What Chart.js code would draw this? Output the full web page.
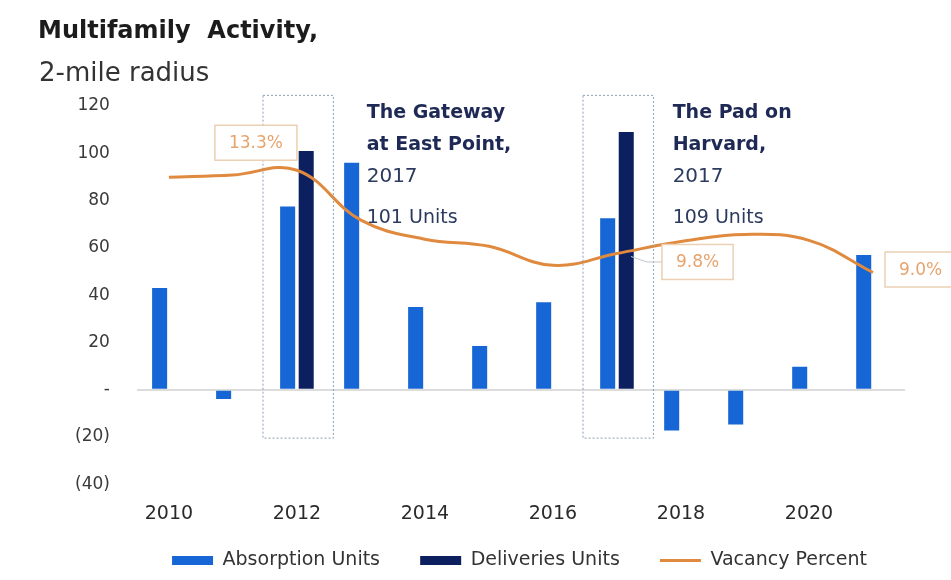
<!DOCTYPE html>
<html>
<head>
<meta charset="utf-8">
<script src="https://cdn.jsdelivr.net/npm/chart.js@4"></script>
<style>
  body { margin: 0; background: #fff; }
  #wrap { width: 951px; height: 580px; position: relative; }
</style>
</head>
<body>
<div id="wrap"><canvas id="mfChart"></canvas></div>
<script>
// chart data
var years = ['2010', '2011', '2012', '2013', '2014', '2015', '2016', '2017', '2018', '2019', '2020', '2021'];
var absorptionUnits = [43, -4, 77.5, 96, 35, 18.5, 37, 72.5, -17.3, -14.7, 9.7, 57];
var deliveriesUnits = [null, null, 101, null, null, null, null, 109, null, null, null, null];
var vacancyPercent = [13.0, 13.1, 13.3, 11.2, 10.4, 10.1, 9.3, 9.8, 10.3, 10.6, 10.35, 9.0];
var yTicks = [-40, -20, 0, 20, 40, 60, 80, 100, 120];
var labelledYears = ['2012', '2017', '2021'];
var projectYears = ['2012', '2017'];
var projectNames = [['The Gateway', 'at East Point,'], ['The Pad on', 'Harvard,']];
var projectDetails = [['2017', '101 Units'], ['2017', '109 Units']];

var FONT = '"DejaVu Sans", Verdana, sans-serif';

// nudge the legend to the right like the original
var legendShift = {
    id: 'legendShift',
    afterUpdate: function(chart) {
        if (chart.legend) {
            chart.legend.left += 43;
            chart.legend.right += 43;
        }
    }
};

var overlay = {
    id: 'overlay',
    afterDraw: function(chart) {
        var ctx = chart.ctx;
        var x = chart.scales.x;
        var y = chart.scales.y;
        var step = x.getPixelForValue(1) - x.getPixelForValue(0);

        ctx.save();
        // title
        ctx.fillStyle = '#1c1c1c';
        ctx.textBaseline = 'alphabetic';
        ctx.textAlign = 'left';
        ctx.font = 'bold 24px ' + FONT;
        ctx.fillText('Multifamily  Activity,', 38, 38);
        ctx.fillStyle = '#333';
        ctx.font = '26px ' + FONT;
        ctx.fillText('2-mile radius', 39, 81);

        // project boxes and notes
        projectYears.forEach(function(yr, k) {
            var i = years.indexOf(yr);
            var cx = x.getPixelForValue(i);
            var top = y.getPixelForValue(124.5);
            var bottom = y.getPixelForValue(-20.5);
            ctx.setLineDash([2, 2]);
            ctx.strokeStyle = '#8c9fb5';
            ctx.lineWidth = 1;
            ctx.strokeRect(cx - step * 0.53, top, step * 1.1, bottom - top);
            ctx.setLineDash([]);

            var tx = cx + step * (k === 0 ? 1.09 : 0.87);
            ctx.fillStyle = '#1e2a55';
            ctx.font = 'bold 19px ' + FONT;
            projectNames[k].forEach(function(t, j) {
                ctx.fillText(t, tx, top + 23 + j * 32);
            });
            ctx.fillStyle = '#2b3a5e';
            ctx.font = '20px ' + FONT;
            ctx.fillText(projectDetails[k][0], tx, top + 87);
            ctx.font = '19px ' + FONT;
            ctx.fillText(projectDetails[k][1], tx, top + 128);
        });

        // vacancy labels
        var meta = chart.getDatasetMeta(2);
        ctx.font = '17px ' + FONT;
        labelledYears.forEach(function(yr) {
            var i = years.indexOf(yr);
            var p = meta.data[i];
            var text = vacancyPercent[i].toFixed(1) + '%';
            var w = ctx.measureText(text).width + 28;
            var h = 35;
            var bx, by;
            if (i === 2) {
                bx = p.x - w; by = p.y - h - 10;
            } else if (i === 7) {
                bx = p.x + 45; by = p.y - 9;
                ctx.strokeStyle = '#bfc6cf';
                ctx.lineWidth = 1;
                ctx.beginPath();
                ctx.moveTo(p.x + 14, p.y + 3);
                ctx.lineTo(p.x + 30, by + h / 2);
                ctx.lineTo(bx, by + h / 2);
                ctx.stroke();
            } else {
                bx = p.x + 12; by = p.y - h / 2 - 3;
            }
            ctx.fillStyle = '#fff';
            ctx.fillRect(bx, by, w, h);
            ctx.strokeStyle = '#ebd0b4';
            ctx.lineWidth = 1.5;
            ctx.strokeRect(bx, by, w, h);
            ctx.fillStyle = '#e6a46c';
            ctx.textAlign = 'center';
            ctx.textBaseline = 'middle';
            ctx.fillText(text, bx + w / 2, by + h / 2 + 1);
            ctx.textAlign = 'left';
            ctx.textBaseline = 'alphabetic';
        });
        ctx.restore();
    }
};

var ctx = document.getElementById('mfChart').getContext('2d');
var mfChart = new Chart(ctx, {
    type: 'bar',
    data: {
        labels: years,
        datasets: [
            {
                label: 'Absorption Units',
                data: absorptionUnits,
                backgroundColor: '#1766d6',
                pointStyle: 'rect',
                categoryPercentage: 0.58,
                barPercentage: 0.81,
                order: 2
            },
            {
                label: 'Deliveries Units',
                data: deliveriesUnits,
                backgroundColor: '#0c1f5e',
                pointStyle: 'rect',
                categoryPercentage: 0.58,
                barPercentage: 0.81,
                order: 2
            },
            {
                type: 'line',
                label: 'Vacancy Percent',
                data: vacancyPercent,
                yAxisID: 'y2',
                borderColor: '#df8a3e',
                backgroundColor: '#df8a3e',
                borderWidth: 3,
                pointRadius: 0,
                pointStyle: 'line',
                tension: 0.4,
                order: 1
            }
        ]
    },
    options: {
        responsive: true,
        maintainAspectRatio: false,
        animation: false,
        layout: { padding: { top: 106, left: 48, right: 46, bottom: 0 } },
        plugins: {
            tooltip: { enabled: false },
            legend: {
                position: 'bottom',
                labels: {
                    usePointStyle: true,
                    pointStyleWidth: 41,
                    boxHeight: 9,
                    padding: 16,
                    color: '#333',
                    font: { family: FONT, size: 19 },
                    generateLabels: function(chart) {
                        var items = Chart.defaults.plugins.legend.labels.generateLabels(chart);
                        items.sort(function(a, b) { return a.datasetIndex - b.datasetIndex; });
                        items.forEach(function(it, i) {
                            if (i < items.length - 1) it.text += '    ';
                        });
                        return items;
                    }
                }
            }
        },
        scales: {
            x: {
                grid: { display: false },
                border: { display: false },
                ticks: {
                    color: '#2a2a2a',
                    padding: 10,
                    maxRotation: 0,
                    font: { family: FONT, size: 19 },
                    callback: function(v, i) { return i % 2 === 0 ? years[i] : ''; }
                }
            },
            y: {
                min: -40,
                max: 120,
                border: { display: false },
                afterBuildTicks: function(axis) {
                    axis.ticks = yTicks.map(function(v) { return { value: v }; });
                },
                grid: {
                    drawTicks: false,
                    color: function(c) { return c.tick && c.tick.value === 0 ? '#dcdcdc' : 'rgba(0,0,0,0)'; },
                    lineWidth: 2
                },
                ticks: {
                    color: '#3a3a3a',
                    padding: 27,
                    font: { family: FONT, size: 17 },
                    callback: function(v) {
                        if (v === 0) return '-';
                        return v < 0 ? '(' + (-v) + ')' : v;
                    }
                }
            },
            y2: {
                display: false,
                min: 0.1,
                max: 16
            }
        }
    },
    plugins: [legendShift, overlay]
});
</script>
</body>
</html>
